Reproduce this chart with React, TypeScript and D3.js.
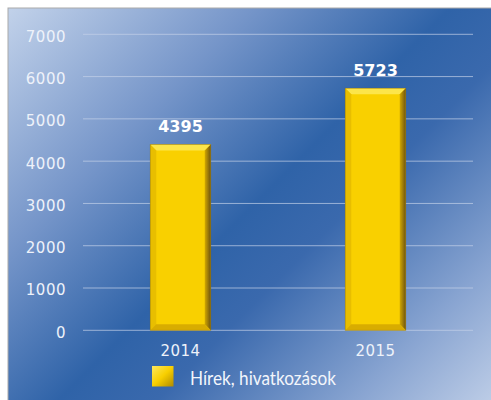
import React from "react";
import * as d3 from "d3";

const categories = ["2014", "2015"];
const values = [4395, 5723];
const yTicks = [0, 1000, 2000, 3000, 4000, 5000, 6000, 7000];
const seriesName = "Hírek, hivatkozások";

export default function App() {
  const W = 491, H = 400;
  const left = 83, right = 473, top = 34.3, bottom = 330.3;
  const x = d3.scaleBand<string>().domain(categories).range([left, right]).paddingInner(0.69).paddingOuter(0.345);
  const y = d3.scaleLinear().domain([0, 7000]).range([bottom, top]);
  const bw = x.bandwidth();
  const bv = 6;
  return (
    <svg width={W} height={H} style={{ position: "absolute", left: 0, top: 0 }}>
      <defs>
        <linearGradient id="bg" gradientUnits="userSpaceOnUse" x1={8} y1={8} x2={500} y2={500}>
          <stop offset="0" stopColor="#c2d2ea" />
          <stop offset="0.25" stopColor="#7595c9" />
          <stop offset="0.45" stopColor="#2f63a8" />
          <stop offset="0.55" stopColor="#3a69ad" />
          <stop offset="0.75" stopColor="#88a4d1" />
          <stop offset="0.95" stopColor="#d2ddef" />
        </linearGradient>
        <linearGradient id="rightBev" x1="0" y1="0" x2="1" y2="0">
          <stop offset="0" stopColor="#d2a800" />
          <stop offset="1" stopColor="#6e5410" />
        </linearGradient>
        <linearGradient id="leg" x1="0" y1="0" x2="1" y2="1">
          <stop offset="0" stopColor="#fde860" />
          <stop offset="0.5" stopColor="#f8cf00" />
          <stop offset="1" stopColor="#b08a00" />
        </linearGradient>
      </defs>
      <rect x={8} y={8} width={500} height={420} fill="url(#bg)" stroke="#a9a9a9" strokeWidth={1} />
      {yTicks.map((t) => (
        <g key={t}>
          <line x1={left} x2={right} y1={y(t)} y2={y(t)} stroke="#c4d2e8" strokeOpacity={0.7} strokeWidth={1} />
          <text x={66} y={y(t) + 7.4} textAnchor="end" fontFamily="DejaVu Sans" fontSize={15} letterSpacing={0.5} fill="#eef2fa">{t}</text>
        </g>
      ))}
      {categories.map((c, i) => {
        const x0 = x(c)!;
        const x1 = x0 + bw;
        const y0 = y(values[i]);
        const y1 = y(0);
        return (
          <g key={c}>
            <rect x={x0} y={y0} width={bw} height={y1 - y0} fill="#f9d000" />
            <polygon points={`${x0},${y0} ${x1},${y0} ${x1 - bv},${y0 + bv} ${x0 + bv},${y0 + bv}`} fill="#fce54a" />
            <polygon points={`${x0},${y0} ${x0 + bv},${y0 + bv} ${x0 + bv},${y1 - bv} ${x0},${y1}`} fill="#e8be00" />
            <polygon points={`${x1},${y0} ${x1},${y1} ${x1 - bv},${y1 - bv} ${x1 - bv},${y0 + bv}`} fill="url(#rightBev)" />
            <polygon points={`${x0},${y1} ${x1},${y1} ${x1 - bv},${y1 - bv} ${x0 + bv},${y1 - bv}`} fill="#d8ac00" />
            <rect x={x0} y={y0} width={bw} height={y1 - y0} fill="none" stroke="#8a6a10" strokeOpacity={0.5} strokeWidth={0.8} />
            <text x={x0 + bw / 2} y={y0 - 12.7} textAnchor="middle" fontFamily="DejaVu Sans" fontWeight="bold" fontSize={16} fill="#ffffff">{values[i]}</text>
            <text x={x0 + bw / 2} y={355.5} textAnchor="middle" fontFamily="DejaVu Sans" fontSize={15} letterSpacing={0.5} fill="#eef2fa">{c}</text>
          </g>
        );
      })}
      <rect x={152} y={366} width={21.5} height={20.5} fill="url(#leg)" />
      <text x={190} y={385} fontFamily="Lato" fontSize={18.5} textLength={146} lengthAdjust="spacingAndGlyphs" fill="#f2f5fb">{seriesName}</text>
    </svg>
  );
}
